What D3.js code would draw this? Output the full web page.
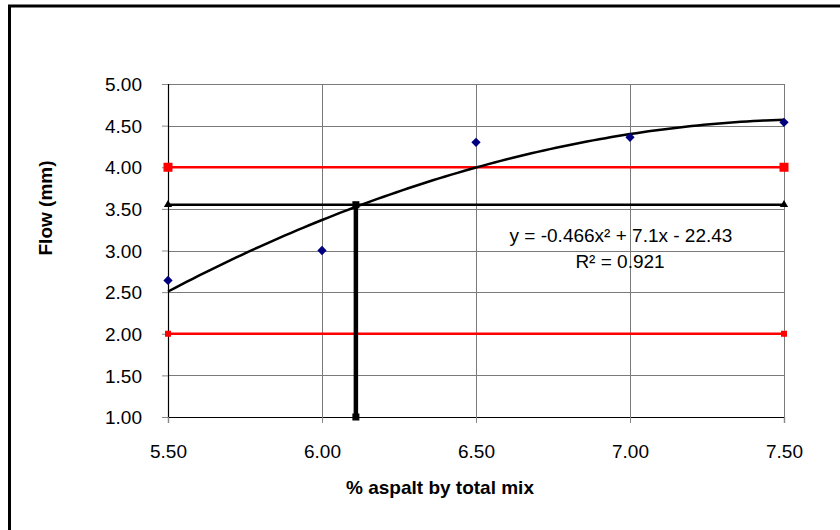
<!DOCTYPE html>
<html><head><meta charset="utf-8">
<script src="https://cdn.jsdelivr.net/npm/d3@7"></script>
<style>
body{margin:0;background:#fff;}
svg{display:block;font-family:"Liberation Sans",Arial,sans-serif;}
</style></head>
<body><svg id="c" width="840" height="530"></svg>
<script>
// ---- data ----
const asphalt = [5.5, 6.0, 6.5, 7.0, 7.5];
const flow = [2.64, 3.00, 4.30, 4.36, 4.54];
const xTicks = [5.5, 6.0, 6.5, 7.0, 7.5];
const yTicks = [1.0, 1.5, 2.0, 2.5, 3.0, 3.5, 4.0, 4.5, 5.0];
const specLimits = [4.0, 2.0];          // red lines
const specMarkerSize = [9, 6];
const targetFlow = 3.55;                 // black horizontal line
const optimumAsphalt = 6.11;             // black vertical line
const equationLabel = "y = -0.466x\u00B2 + 7.1x - 22.43";
const r2Label = "R\u00B2 = 0.921";
const xTitle = "% aspalt by total mix";
const yTitle = "Flow (mm)";

const svg = d3.select("#c");
const L = 168, R = 784, T = 84, B = 417;
const x = d3.scaleLinear().domain([5.5, 7.5]).range([L, R]);
const y = d3.scaleLinear().domain([1, 5]).range([B, T]);

// outer chart border
svg.append("rect").attr("x", 9.5).attr("y", 6).attr("width", 900).attr("height", 600)
  .attr("fill", "none").attr("stroke", "#000").attr("stroke-width", 3);

// gridlines
const g = svg.append("g");
g.selectAll("line.h").data(yTicks).join("line")
  .attr("x1", L).attr("x2", R).attr("y1", d => Math.round(y(d)) + 0.5).attr("y2", d => Math.round(y(d)) + 0.5)
  .attr("stroke", "#7a7a7a").attr("stroke-width", 1);
g.selectAll("line.v").data(xTicks).join("line")
  .attr("y1", T).attr("y2", B).attr("x1", d => Math.round(x(d)) + 0.5).attr("x2", d => Math.round(x(d)) + 0.5)
  .attr("stroke", "#7a7a7a").attr("stroke-width", 1);

// axes
const ya = svg.append("g").attr("transform", `translate(${L},0)`)
  .call(d3.axisLeft(y).tickValues(yTicks).tickFormat(d3.format(".2f")).tickSize(6).tickPadding(22));
const xa = svg.append("g").attr("transform", `translate(0,${B})`)
  .call(d3.axisBottom(x).tickValues(xTicks).tickFormat(d3.format(".2f")).tickSize(6).tickPadding(22));
[ya, xa].forEach(a => {
  a.select(".domain").attr("stroke", "#000").attr("stroke-width", 1.2);
  a.selectAll(".tick line").attr("stroke", "#888");
  a.selectAll(".tick text").attr("font-size", 19).attr("fill", "#000")
    .attr("font-family", "'Liberation Sans',Arial,sans-serif");
});
ya.selectAll(".tick text").attr("dy", "0.35em").attr("x", -26);
xa.selectAll(".tick text").attr("dy", "0.7em");

// red spec lines
specLimits.forEach((v, i) => {
  svg.append("line").attr("x1", x(5.5)).attr("x2", x(7.5)).attr("y1", y(v)).attr("y2", y(v))
    .attr("stroke", "#ff0000").attr("stroke-width", 2.5);
  const s = specMarkerSize[i];
  [5.5, 7.5].forEach(xv => svg.append("rect").attr("x", x(xv) - s / 2).attr("y", y(v) - s / 2)
    .attr("width", s).attr("height", s).attr("fill", "#ff0000"));
});

// target flow line with triangles
svg.append("line").attr("x1", x(5.5)).attr("x2", x(7.5)).attr("y1", y(targetFlow)).attr("y2", y(targetFlow))
  .attr("stroke", "#000").attr("stroke-width", 2.5);
[5.5, 7.5].forEach(xv => svg.append("path")
  .attr("d", d3.symbol(d3.symbolTriangle, 30)())
  .attr("transform", `translate(${x(xv)},${y(targetFlow)})`).attr("fill", "#000"));

// optimum vertical line
svg.append("line").attr("x1", x(optimumAsphalt)).attr("x2", x(optimumAsphalt))
  .attr("y1", y(1)).attr("y2", y(targetFlow)).attr("stroke", "#000").attr("stroke-width", 4.5);
[1, targetFlow].forEach(v => svg.append("rect").attr("x", x(optimumAsphalt) - 3.5).attr("y", y(v) - 3.5)
  .attr("width", 7).attr("height", 7).attr("fill", "#000"));

// quadratic least-squares trendline from the data
function quadFit(xs, ys) {
  let S = Array.from({length: 5}, (_, k) => d3.sum(xs, v => Math.pow(v, k)));
  let Ty = Array.from({length: 3}, (_, k) => d3.sum(xs, (v, i) => Math.pow(v, k) * ys[i]));
  let M = [[S[0], S[1], S[2], Ty[0]], [S[1], S[2], S[3], Ty[1]], [S[2], S[3], S[4], Ty[2]]];
  for (let c = 0; c < 3; c++) {
    for (let r = c + 1; r < 3; r++) {
      const f = M[r][c] / M[c][c];
      for (let k = c; k < 4; k++) M[r][k] -= f * M[c][k];
    }
  }
  const sol = [0, 0, 0];
  for (let r = 2; r >= 0; r--) {
    let s = M[r][3];
    for (let k = r + 1; k < 3; k++) s -= M[r][k] * sol[k];
    sol[r] = s / M[r][r];
  }
  return sol; // c0 + c1 x + c2 x^2
}
const coef = quadFit(asphalt, flow);
const xsCurve = d3.range(5.5, 7.5001, 0.02);
svg.append("path").datum(xsCurve)
  .attr("d", d3.line().x(d => x(d)).y(d => y(coef[0] + coef[1] * d + coef[2] * d * d)).curve(d3.curveLinear))
  .attr("fill", "none").attr("stroke", "#000").attr("stroke-width", 2.5);

// data points
svg.selectAll("path.pt").data(asphalt).join("path")
  .attr("d", d3.symbol(d3.symbolDiamond2 || d3.symbolDiamond, 55)())
  .attr("transform", (d, i) => `translate(${x(d)},${y(flow[i])}) rotate(${d3.symbolDiamond2 ? 0 : 0})`)
  .attr("fill", "#000080");

// equation labels
svg.append("text").attr("x", 621).attr("y", 242).attr("text-anchor", "middle")
  .attr("font-size", 19).text(equationLabel);
svg.append("text").attr("x", 620).attr("y", 268).attr("text-anchor", "middle")
  .attr("font-size", 19).text(r2Label);

// axis titles
svg.append("text").attr("x", 440).attr("y", 494).attr("text-anchor", "middle")
  .attr("font-size", 19).attr("font-weight", "bold").text(xTitle);
svg.append("text").attr("transform", "translate(52,208) rotate(-90)").attr("text-anchor", "middle")
  .attr("font-size", 19).attr("font-weight", "bold").text(yTitle);
</script></body></html>
